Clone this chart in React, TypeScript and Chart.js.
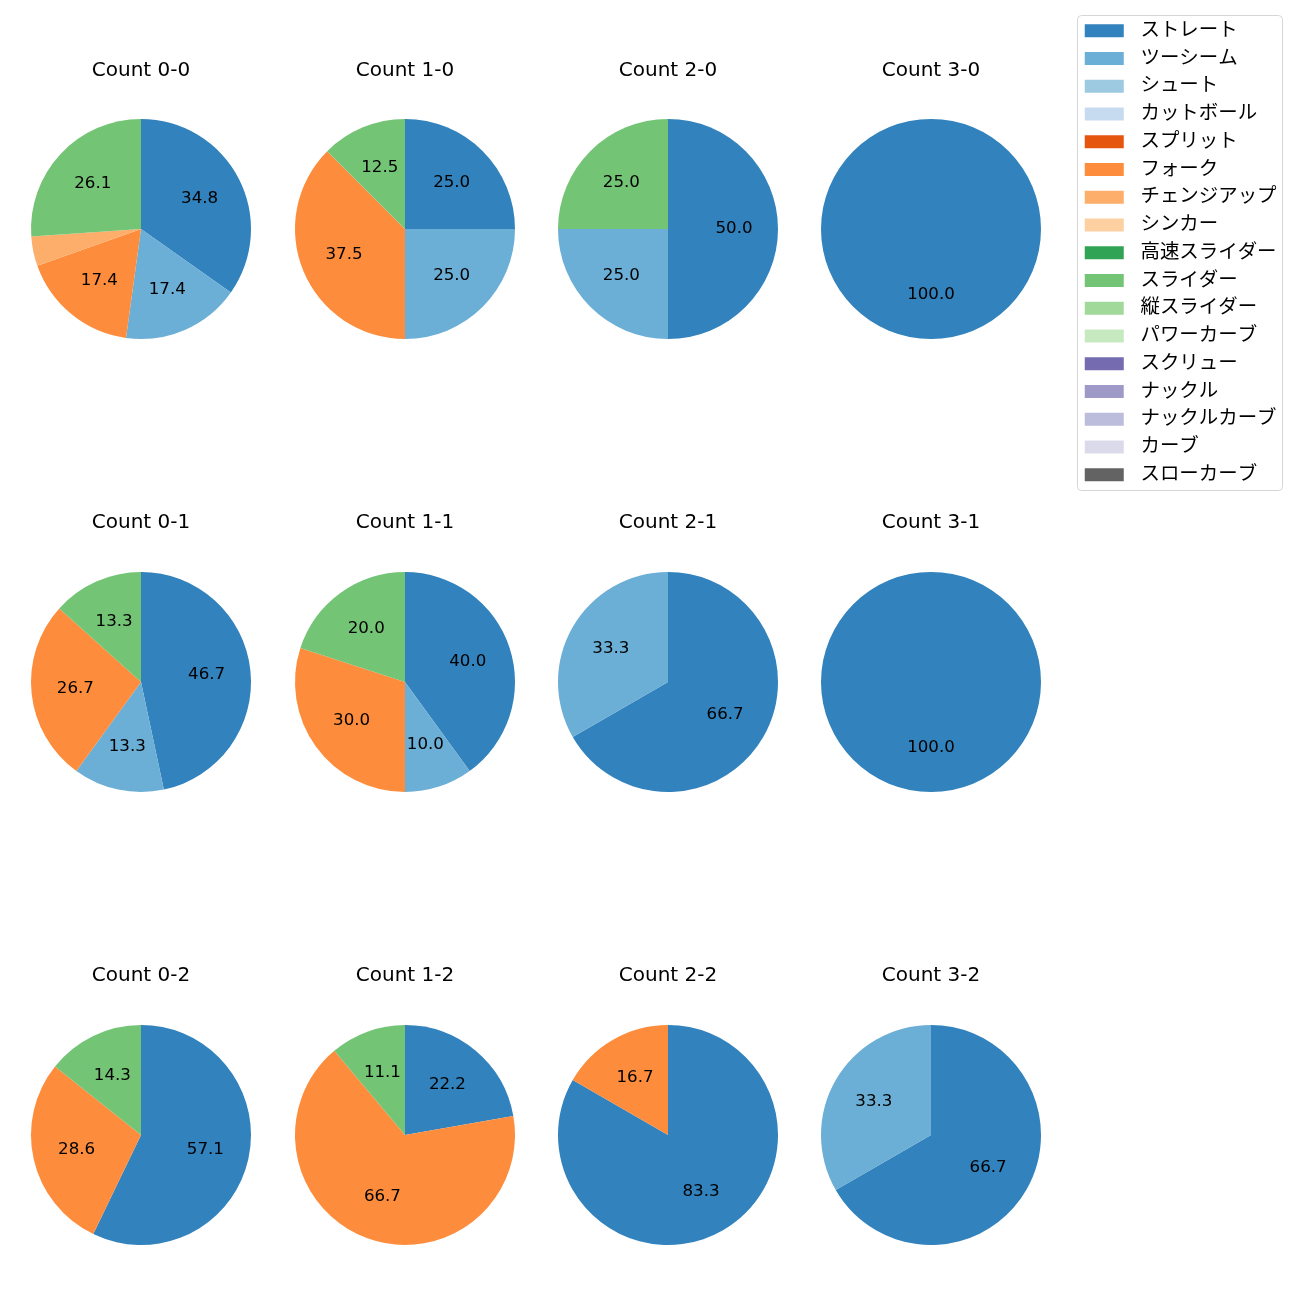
import React, { useEffect, useRef } from "react";
import { Chart, registerables } from "chart.js";

Chart.register(...registerables);

// ---- data ----
const pitchTypes = [
  "ストレート", "ツーシーム", "シュート", "カットボール", "スプリット", "フォーク",
  "チェンジアップ", "シンカー", "高速スライダー", "スライダー", "縦スライダー",
  "パワーカーブ", "スクリュー", "ナックル", "ナックルカーブ", "カーブ", "スローカーブ",
];
const pitchColors = [
  "#3182bd", "#6baed6", "#9ecae1", "#c6dbef", "#e6550d", "#fd8d3c",
  "#fdae6b", "#fdd0a2", "#31a354", "#74c476", "#a1d99b", "#c7e9c0",
  "#756bb1", "#9e9ac8", "#bcbddc", "#dadaeb", "#636363",
];

// pitch counts per ball-strike count, in pitchTypes order
const count00 = [8, 4, 0, 0, 0, 4, 1, 0, 0, 6, 0, 0, 0, 0, 0, 0, 0];
const count10 = [2, 2, 0, 0, 0, 3, 0, 0, 0, 1, 0, 0, 0, 0, 0, 0, 0];
const count20 = [2, 1, 0, 0, 0, 0, 0, 0, 0, 1, 0, 0, 0, 0, 0, 0, 0];
const count30 = [1, 0, 0, 0, 0, 0, 0, 0, 0, 0, 0, 0, 0, 0, 0, 0, 0];
const count01 = [7, 2, 0, 0, 0, 4, 0, 0, 0, 2, 0, 0, 0, 0, 0, 0, 0];
const count11 = [4, 1, 0, 0, 0, 3, 0, 0, 0, 2, 0, 0, 0, 0, 0, 0, 0];
const count21 = [2, 1, 0, 0, 0, 0, 0, 0, 0, 0, 0, 0, 0, 0, 0, 0, 0];
const count31 = [1, 0, 0, 0, 0, 0, 0, 0, 0, 0, 0, 0, 0, 0, 0, 0, 0];
const count02 = [4, 0, 0, 0, 0, 2, 0, 0, 0, 1, 0, 0, 0, 0, 0, 0, 0];
const count12 = [2, 0, 0, 0, 0, 6, 0, 0, 0, 1, 0, 0, 0, 0, 0, 0, 0];
const count22 = [5, 0, 0, 0, 0, 1, 0, 0, 0, 0, 0, 0, 0, 0, 0, 0, 0];
const count32 = [2, 1, 0, 0, 0, 0, 0, 0, 0, 0, 0, 0, 0, 0, 0, 0, 0];

const countTitles = [
  ["Count 0-0", "Count 1-0", "Count 2-0", "Count 3-0"],
  ["Count 0-1", "Count 1-1", "Count 2-1", "Count 3-1"],
  ["Count 0-2", "Count 1-2", "Count 2-2", "Count 3-2"],
];
const countValues = [
  [count00, count10, count20, count30],
  [count01, count11, count21, count31],
  [count02, count12, count22, count32],
];

// ---- layout ----
const FONT = '"DejaVu Sans", "Noto Sans CJK JP", sans-serif';
const colCenters = [141, 404.5, 667.5, 930.5];
const rowTitleY = [71, 523, 976];
const rowCenterY = [229, 682, 1135];
const PIE_W = 260;
const TITLE_SIZE = 20;
const TITLE_LH = TITLE_SIZE * 1.2;
const RADIUS = 110;

const pctLabelPlugin = {
  id: "pctLabels",
  afterDatasetsDraw(chart: any) {
    const ctx = chart.ctx;
    const meta = chart.getDatasetMeta(0);
    const data = chart.data.datasets[0].data as number[];
    const total = data.reduce((a, b) => a + b, 0);
    ctx.save();
    ctx.font = `16.67px ${FONT}`;
    ctx.fillStyle = "#000000";
    ctx.textAlign = "center";
    ctx.textBaseline = "middle";
    meta.data.forEach((arc: any, i: number) => {
      const v = data[i];
      if (!v) return;
      const pct = (v / total) * 100;
      if (pct < 5) return;
      const p = arc.getProps(["x", "y", "startAngle", "endAngle", "outerRadius"], true);
      const mid = (p.startAngle + p.endAngle) / 2;
      const r = p.outerRadius * 0.6;
      ctx.fillText(pct.toFixed(1), p.x + Math.cos(mid) * r, p.y + Math.sin(mid) * r);
    });
    ctx.restore();
  },
};

function PieChart(props: { title: string; values: number[]; left: number; top: number; height: number }) {
  const ref = useRef<HTMLCanvasElement>(null);
  useEffect(() => {
    if (!ref.current) return;
    const chart = new Chart(ref.current, {
      type: "pie",
      data: {
        labels: pitchTypes,
        datasets: [
          {
            data: props.values,
            backgroundColor: pitchColors,
            borderWidth: 0,
          },
        ],
      },
      options: {
        responsive: false,
        animation: false,
        devicePixelRatio: 1,
        events: [],
        radius: RADIUS,
        layout: { padding: 0 },
        plugins: {
          legend: { display: false },
          tooltip: { enabled: false },
          title: {
            display: true,
            text: props.title,
            color: "#000000",
            padding: 0,
            font: { family: FONT, size: TITLE_SIZE, weight: "normal", lineHeight: 1.2 },
          },
        },
      } as any,
      plugins: [pctLabelPlugin],
    });
    return () => chart.destroy();
  }, []);
  return (
    <canvas
      ref={ref}
      width={PIE_W}
      height={props.height}
      style={{ position: "absolute", left: props.left, top: props.top, width: PIE_W, height: props.height }}
    />
  );
}

const LEG_LEFT = 1077;
const LEG_TOP = 15;
const LEG_W = 206;
const LEG_H = 476;
const LEG_CANVAS_W = LEG_W * 2;

const framePlugin = {
  id: "legendFrame",
  afterDraw(chart: any) {
    const ctx = chart.ctx;
    ctx.save();
    ctx.strokeStyle = "#d5d5d5";
    ctx.lineWidth = 1;
    ctx.beginPath();
    (ctx as any).roundRect(0.5, 0.5, LEG_W - 1, LEG_H - 1, 4);
    ctx.stroke();
    ctx.restore();
  },
};

function LegendChart() {
  const ref = useRef<HTMLCanvasElement>(null);
  useEffect(() => {
    if (!ref.current) return;
    const chart = new Chart(ref.current, {
      type: "pie",
      data: { labels: pitchTypes, datasets: [{ data: [], backgroundColor: pitchColors }] },
      options: {
        responsive: false,
        animation: false,
        devicePixelRatio: 1,
        events: [],
        layout: { padding: { top: 1.5, left: 0, right: 0, bottom: 0 } },
        plugins: {
          tooltip: { enabled: false },
          title: { display: false },
          legend: {
            display: true,
            position: "left",
            align: "start",
            labels: {
              boxWidth: 53,
              boxHeight: 27,
              padding: 0.75,
              color: "#000000",
              font: { family: FONT, size: 19.44 },
              generateLabels: () =>
                pitchTypes.map((t, i) => ({
                  text: t,
                  fillStyle: pitchColors[i],
                  strokeStyle: "#ffffff",
                  lineWidth: 14,
                  hidden: false,
                  index: i,
                  fontColor: "#000000",
                })),
            },
          },
        },
      } as any,
      plugins: [framePlugin],
    });
    return () => chart.destroy();
  }, []);
  return (
    <canvas
      ref={ref}
      width={LEG_CANVAS_W}
      height={LEG_H}
      style={{ position: "absolute", left: LEG_LEFT, top: LEG_TOP, width: LEG_CANVAS_W, height: LEG_H }}
    />
  );
}

export default function App() {
  const pies: React.ReactNode[] = [];
  countTitles.forEach((row, r) => {
    row.forEach((title, c) => {
      const top = rowTitleY[r] - TITLE_LH / 2;
      const height = TITLE_LH + 2 * (rowCenterY[r] - (rowTitleY[r] + TITLE_LH / 2));
      pies.push(
        <PieChart
          key={title}
          title={title}
          values={countValues[r][c]}
          left={colCenters[c] - PIE_W / 2}
          top={top}
          height={height}
        />
      );
    });
  });
  return (
    <div
      style={{
        position: "absolute",
        left: 0,
        top: 0,
        width: 1300,
        height: 1300,
        overflow: "hidden",
        background: "#ffffff",
      }}
    >
      {pies}
      <LegendChart />
    </div>
  );
}
